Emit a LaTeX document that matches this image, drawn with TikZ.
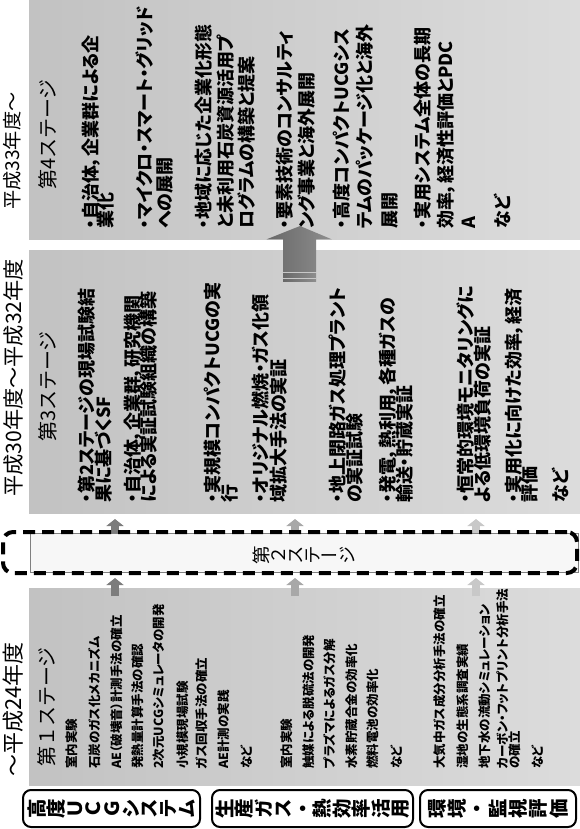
\documentclass[tikz,border=0pt]{standalone}
\usepackage{fontspec}
\setmainfont{Noto Sans CJK JP}
\newfontfamily\jpp{Noto Sans CJK JP}[RawFeature=+palt]
\newfontfamily\jpv{Noto Sans CJK JP}[RawFeature=+vert]
\usetikzlibrary{arrows.meta}
\definecolor{boxL}{HTML}{C2C2C2}
\definecolor{boxR}{HTML}{DCDCDC}
\definecolor{arrA}{HTML}{7C7C7C}
\definecolor{arrB}{HTML}{A8A8A8}
\definecolor{arrC}{HTML}{C8C8C8}
\definecolor{bigL}{HTML}{686868}
\definecolor{bigR}{HTML}{8E8E8E}
\definecolor{stripe}{HTML}{C8C8C8}
\definecolor{innerfill}{HTML}{F7F7F7}
\newcommand\tightlines{\lineskiplimit=-50pt\relax\lineskip=0pt\relax}
\tikzset{
  vtext/.style={rotate=90, anchor=west, inner sep=0pt},
  itembig/.style={vtext, text height=15.8pt, text depth=2.2pt, font={\jpp\bfseries\fontsize{18}{18}\selectfont}},
  itemsmall/.style={vtext, text height=11pt, text depth=1.5pt, font={\jpp\bfseries\fontsize{12.5}{12.5}\selectfont}},
  yearhead/.style={vtext, text height=0.88em, text depth=0.12em, font={\fontsize{#1}{#1}\selectfont}},
  stagetitle/.style={vtext, text height=17.6pt, text depth=2.4pt, font={\fontsize{20}{20}\selectfont}},
  stagebox/.style={draw=none, left color=boxL, right color=boxR, inner sep=0pt, anchor=north west},
  rowlabel/.style={draw=black, line width=2pt, rounded corners=8pt, fill=white, rotate=90, align=center, inner sep=0pt,
     font={\jpv\bfseries\fontsize{19.5}{#1}\selectfont\tightlines}},
  smallarrow/.style={line width=8pt, -{Triangle[width=17pt,length=7pt]}},
}
\begin{document}
\begin{tikzpicture}[x=1pt,y=-1pt]
\useasboundingbox (0,0) rectangle (580,829);
\fill[white] (0,0) rectangle (580,829);

% stage boxes
\node[stagebox, minimum width=551pt, minimum height=239pt] (s4) at (29,0) {};
\node[stagebox, minimum width=551pt, minimum height=263pt] (s3) at (29,250) {};
\node[stagebox, minimum width=551pt, minimum height=197pt] (s1) at (29,588) {};

% small arrows
\coordinate (u1s) at (115,533); \coordinate (u1e) at (115,519);
\coordinate (u2s) at (295,533); \coordinate (u2e) at (295,519);
\coordinate (u3s) at (476,533); \coordinate (u3e) at (476,519);
\coordinate (l1s) at (115,596); \coordinate (l1e) at (115,578);
\coordinate (l2s) at (295,596); \coordinate (l2e) at (295,578);
\coordinate (l3s) at (476,596); \coordinate (l3e) at (476,578);
\draw[smallarrow, arrA] (u1s) -- (u1e);
\draw[smallarrow, arrB] (u2s) -- (u2e);
\draw[smallarrow, arrC] (u3s) -- (u3e);
\draw[smallarrow, arrA] (l1s) -- (l1e);
\draw[smallarrow, arrB] (l2s) -- (l2e);
\draw[smallarrow, arrC] (l3s) -- (l3e);

% stage 2 dashed box
\node[draw=gray, line width=0.6pt, fill=innerfill, minimum width=548pt, minimum height=39pt, inner sep=0pt, anchor=north west] (st2in) at (30,533) {};
\node[draw=black, line width=4pt, dash pattern=on 12pt off 7pt, rounded corners=10pt, minimum width=574pt, minimum height=41pt, inner sep=0pt] (st2) at (290,552.5) {};
\node[rotate=90, align=center, inner sep=0pt, font={\jpv\fontsize{18.5}{17.2}\selectfont\tightlines}] (st2t) at (303.5,555) {第\\２\\ス\\テ\\ー\\ジ};

% big arrow stage 3 -> stage 4
\shade[left color=bigL, right color=bigR] (266.7,239.3) -- (300,226) -- (331.7,239.3) -- (316,239.3) -- (316,272) -- (283,272) -- (283,239.3) -- cycle;
\fill[stripe] (283,272) rectangle (316,273.3);
\shade[left color=bigL, right color=bigR] (283,273.3) rectangle (316,278.3);
\fill[stripe] (283,278.3) rectangle (316,279.3);
\shade[left color=bigL, right color=bigR] (283,279.3) rectangle (316,281.7);

% year headers
\node[yearhead=22pt] (h1) at (17.5,777) {～平成24年度};
\node[yearhead=21.2pt] (h3) at (18,497) {平成30年度～平成32年度};
\node[yearhead=19.2pt] (h4) at (16,210) {平成33年度～};

% stage titles
\node[stagetitle] (t1) at (47,767) {第１ステージ};
\node[stagetitle] (t3) at (47.5,442) {第3ステージ};
\node[stagetitle] (t4) at (47.5,190) {第4ステージ};

% stage 4 items
\node[itembig] (a01) at (91,229) {・自治体，企業群による企};
\node[itembig] (a02) at (106,229) {業化};
\node[itembig] (a03) at (145,229) {・マイクロ・スマート・グリッド};
\node[itembig] (a04) at (165,229) {への展開};
\node[itembig] (a05) at (204,229) {・地域に応じた企業化形態};
\node[itembig] (a06) at (226,229) {と未利用石炭資源活用プ};
\node[itembig] (a07) at (247,229) {ログラムの構築と提案};
\node[itembig] (a08) at (285,229) {・要素技術のコンサルティ};
\node[itembig] (a09) at (307,229) {ング事業と海外展開};
\node[itembig] (a10) at (342,229) {・高度コンパクトUCGシス};
\node[itembig] (a11) at (365,229) {テムのパッケージ化と海外};
\node[itembig] (a12) at (390,229) {展開};
\node[itembig] (a13) at (423,229) {・実用システム全体の長期};
\node[itembig] (a14) at (446,229) {効率，経済性評価とPDC};
\node[itembig] (a15) at (469,229) {A};
\node[itembig] (a16) at (503,229) {など};

% stage 3 items
\node[itembig] (b01) at (87,503) {・第2ステージの現場試験結};
\node[itembig] (b02) at (104,503) {果に基づくSF};
\node[itembig] (b03) at (133,503) {・自治体，企業群，研究機関};
\node[itembig] (b04) at (149,503) {による実証試験組織の構築};
\node[itembig] (b05) at (213,503) {・実規模コンパクトUCGの実};
\node[itembig] (b06) at (230,503) {行};
\node[itembig] (b07) at (261,503) {・オリジナル燃焼・ガス化領};
\node[itembig] (b08) at (279,503) {域拡大手法の実証};
\node[itembig] (b09) at (338,503) {・地上閉路ガス処理プラント};
\node[itembig] (b10) at (355,503) {の実証試験};
\node[itembig] (b11) at (388,503) {・発電，熱利用，各種ガスの};
\node[itembig] (b12) at (405,503) {輸送・貯蔵実証};
\node[itembig] (b13) at (466,503) {・恒常的環境モニタリングに};
\node[itembig] (b14) at (483,503) {よる低環境負荷の実証};
\node[itembig] (b15) at (514,503) {・実用化に向けた効率，経済};
\node[itembig] (b16) at (530,503) {評価};
\node[itembig] (b17) at (561,503) {など};

% stage 1 items
\node[itemsmall] (c01) at (72,769) {室内実験};
\node[itemsmall] (c02) at (95,769) {石炭のガス化メカニズム};
\node[itemsmall] (c03) at (117,769) {AE（破壊音）計測手法の確立};
\node[itemsmall] (c04) at (138,769) {発熱量計算手法の確認};
\node[itemsmall] (c05) at (159,769) {2次元UCGシミュレータの開発};
\node[itemsmall] (c06) at (183,769) {小規模現場試験};
\node[itemsmall] (c07) at (202,769) {ガス回収手法の確立};
\node[itemsmall] (c08) at (224,769) {AE計測の実践};
\node[itemsmall] (c09) at (247,769) {など};
\node[itemsmall] (c10) at (287,769) {室内実験};
\node[itemsmall] (c11) at (309,769) {触媒による脱硫法の開発};
\node[itemsmall] (c12) at (330,769) {プラズマによるガス分解};
\node[itemsmall] (c13) at (352,769) {水素貯蔵合金の効率化};
\node[itemsmall] (c14) at (373,769) {燃料電池の効率化};
\node[itemsmall] (c15) at (397,769) {など};
\node[itemsmall] (c16) at (440,769) {大気中ガス成分分析手法の確立};
\node[itemsmall] (c17) at (463,769) {湿地の生態系調査実績};
\node[itemsmall] (c18) at (485,769) {地下水の流動シミュレーション};
\node[itemsmall] (c19) at (503,769) {カーボン・フットプリント分析手法};
\node[itemsmall] (c20) at (515,769) {の確立};
\node[itemsmall] (c21) at (538,769) {など};

% row labels
\node[rowlabel=18.7pt, minimum width=37pt, minimum height=177pt] (r1) at (111.5,808.5) {高\\度\\Ｕ\\Ｃ\\Ｇ\\シ\\ス\\テ\\ム};
\node[rowlabel=19.5pt, minimum width=37pt, minimum height=201pt] (r2) at (312.5,808.5) {生\\産\\ガ\\ス\\・\\熱\\効\\率\\活\\用};
\node[rowlabel=20.3pt, minimum width=37pt, minimum height=156pt] (r3) at (498,808.5) {環\\境\\・\\監\\視\\評\\価};
\end{tikzpicture}
\end{document}
